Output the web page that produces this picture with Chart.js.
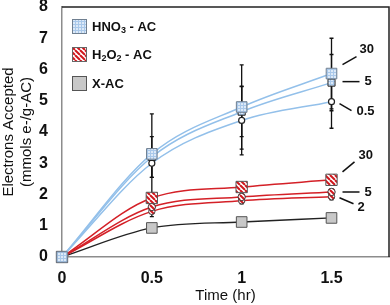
<!DOCTYPE html>
<html><head><meta charset="utf-8">
<script src="https://cdn.jsdelivr.net/npm/chart.js@4/dist/chart.umd.min.js"></script>
<style>html,body{margin:0;padding:0;background:#fff}#wrap{width:390px;height:305px;position:relative}</style>
</head><body><div id="wrap"><canvas id="c"></canvas></div>
<script>
// ---- data ----
const times = [0, 0.5, 1, 1.5];
const xTicks = [0, 0.5, 1, 1.5];
const yTicks = [0, 1, 2, 3, 4, 5, 6, 7, 8];
const hno3_30 = [0, 3.3, 4.8, 5.87];
const hno3_5 = [0, 3.2, 4.65, 5.58];
const hno3_05 = [0, 3.0, 4.37, 4.97];
const hno3_30_err = [0, 1.28, 1.35, 1.13];
const hno3_5_err = [0, 0.65, 0.8, 0.9];
const hno3_05_err = [0, 0.45, 1.1, 0.85];
const h2o2_30 = [0, 1.89, 2.24, 2.47];
const h2o2_5 = [0, 1.6, 1.92, 2.08];
const h2o2_2 = [0, 1.46, 1.8, 1.93];
const h2o2_30_err = [0, 0.08, 0.07, 0.07];
const h2o2_5_err = [0, 0.12, 0.1, 0.1];
const h2o2_2_err = [0, 0.17, 0.1, 0.1];
const xac = [0, 0.93, 1.12, 1.25];
const legendLabels = [['HNO', '3', ' - AC'], ['H', '2', 'O', '2', ' - AC'], ['X-AC']];
const hno3DoseLabels = ['30', '5', '0.5'];
const h2o2DoseLabels = ['30', '5', '2'];
const yTitle = ['Electrons Accepted', '(mmols e-/g-AC)'];
const xTitle = 'Time (hr)';

// ---- patterns ----
function makePattern(w, h, draw) {
  const c = document.createElement('canvas'); c.width = w; c.height = h;
  const g = c.getContext('2d'); draw(g);
  return g.createPattern(c, 'repeat');
}
const bluePat = makePattern(3, 3, g => {
  g.fillStyle = '#dce9f7'; g.fillRect(0, 0, 3, 3);
  g.fillStyle = '#a9c8ea'; g.fillRect(0, 0, 3, 1); g.fillRect(0, 0, 1, 3);
});
const redPat = makePattern(5, 5, g => {
  g.fillStyle = '#ffffff'; g.fillRect(0, 0, 5, 5);
  g.strokeStyle = '#d0161c'; g.lineWidth = 2;
  for (const k of [-5, 0, 5]) { g.beginPath(); g.moveTo(k, 0); g.lineTo(k + 5, 5); g.stroke(); }
});
const grayFill = '#c8c8c8';

const FONT = '"Liberation Sans", Arial, sans-serif';
const pts = arr => times.map((t, i) => ({ x: t, y: arr[i] }));

const blue = '#93c0ea', red = '#d42027', dark = '#222222';

const datasets = [
  { label: 'HNO3-30', data: pts(hno3_30), err: hno3_30_err, borderColor: blue, borderWidth: 1.5,
    pointStyle: 'rect', pointRadius: 7.5, pointBackgroundColor: bluePat, pointBorderColor: '#6f7f90', pointBorderWidth: 1 },
  { label: 'HNO3-5', data: pts(hno3_5), err: hno3_5_err, borderColor: blue, borderWidth: 1.5,
    pointStyle: 'rect', pointRadius: 5, pointBackgroundColor: bluePat, pointBorderColor: '#222', pointBorderWidth: 1 },
  { label: 'HNO3-0.5', data: pts(hno3_05), err: hno3_05_err, borderColor: blue, borderWidth: 1.5,
    pointStyle: 'circle', pointRadius: 3, pointBackgroundColor: '#ffffff', pointBorderColor: '#222', pointBorderWidth: 1.2 },
  { label: 'H2O2-30', data: pts(h2o2_30), err: h2o2_30_err, borderColor: red, borderWidth: 1.5,
    pointStyle: 'rect', pointRadius: 8, pointBackgroundColor: redPat, pointBorderColor: '#555', pointBorderWidth: 1 },
  { label: 'H2O2-5', data: pts(h2o2_5), err: h2o2_5_err, borderColor: red, borderWidth: 1.5,
    pointStyle: 'circle', pointRadius: 3.7, pointBackgroundColor: redPat, pointBorderColor: '#444', pointBorderWidth: 1 },
  { label: 'H2O2-2', data: pts(h2o2_2), err: h2o2_2_err, borderColor: red, borderWidth: 1.5,
    pointStyle: 'circle', pointRadius: 3.2, pointBackgroundColor: redPat, pointBorderColor: '#444', pointBorderWidth: 1 },
  { label: 'X-AC', data: pts(xac), borderColor: dark, borderWidth: 1.3,
    pointStyle: 'rect', pointRadius: 7.5, pointBackgroundColor: grayFill, pointBorderColor: '#555', pointBorderWidth: 1 }
].map(d => Object.assign({ cubicInterpolationMode: 'monotone', fill: false, clip: false }, d));

// error bars drawn beneath the datasets
const errorBars = {
  id: 'errorBars',
  beforeDatasetsDraw(chart) {
    const { ctx, scales: { x, y } } = chart;
    ctx.save(); ctx.strokeStyle = '#111'; ctx.lineWidth = 1.3;
    chart.data.datasets.forEach(ds => {
      if (!ds.err) return;
      ds.data.forEach((p, i) => {
        const e = ds.err[i]; if (!e) return;
        const px = x.getPixelForValue(p.x), y1 = y.getPixelForValue(p.y - e), y2 = y.getPixelForValue(p.y + e);
        ctx.beginPath(); ctx.moveTo(px, y1); ctx.lineTo(px, y2);
        ctx.moveTo(px - 2, y1); ctx.lineTo(px + 2, y1);
        ctx.moveTo(px - 2, y2); ctx.lineTo(px + 2, y2);
        ctx.stroke();
      });
    });
    ctx.restore();
  }
};

// frame, dose labels and legend
const extras = {
  id: 'extras',
  afterDraw(chart) {
    const { ctx, chartArea: a, scales: { x, y } } = chart;
    ctx.save();
    // top / right frame
    ctx.strokeStyle = '#222'; ctx.lineWidth = 1.5;
    ctx.beginPath(); ctx.moveTo(a.left, a.top); ctx.lineTo(a.right, a.top); ctx.lineTo(a.right, a.bottom); ctx.stroke();

    // dose labels with leader lines
    const last = times.length - 1;
    const px = x.getPixelForValue(times[last]);
    const spec = [
      [hno3_30[last], hno3DoseLabels[0], [11, -9, 25, -17], [28, -24]],
      [hno3_5[last], hno3DoseLabels[1], [11, -1, 28, -1], [33, -1]],
      [hno3_05[last], hno3DoseLabels[2], [8, 2, 20, 9], [25, 10]],
      [h2o2_30[last], h2o2DoseLabels[0], [11, -8, 23, -18], [27, -24]],
      [h2o2_5[last], h2o2DoseLabels[1], [11, 0, 28, 0], [33, 0]],
      [h2o2_2[last], h2o2DoseLabels[2], [8, 1, 22, 7], [26, 11]]
    ];
    ctx.strokeStyle = '#111'; ctx.lineWidth = 1.5;
    ctx.fillStyle = '#111'; ctx.font = 'bold 13px ' + FONT; ctx.textBaseline = 'middle'; ctx.textAlign = 'left';
    spec.forEach(([v, txt, l, t]) => {
      const py = y.getPixelForValue(v);
      ctx.beginPath(); ctx.moveTo(px + l[0], py + l[1]); ctx.lineTo(px + l[2], py + l[3]); ctx.stroke();
      ctx.fillText(txt, px + t[0], py + t[1]);
    });

    // legend
    const fills = [bluePat, redPat, grayFill];
    const borders = ['#6f7f90', '#666', '#555'];
    const boxX = a.left + 10, tops = [a.top + 12, a.top + 40, a.top + 69];
    legendLabels.forEach((parts, i) => {
      const by = tops[i];
      ctx.fillStyle = fills[i]; ctx.fillRect(boxX, by, 15, 15);
      ctx.strokeStyle = borders[i]; ctx.lineWidth = 1; ctx.strokeRect(boxX + 0.5, by + 0.5, 14, 14);
      let tx = boxX + 20; const ty = by + 8;
      ctx.fillStyle = '#111'; ctx.textBaseline = 'middle';
      parts.forEach(s => {
        const sub = /^\d$/.test(s);
        ctx.font = sub ? 'bold 9px ' + FONT : 'bold 13px ' + FONT;
        ctx.fillText(s, tx, sub ? ty + 4 : ty);
        tx += ctx.measureText(s).width;
      });
    });
    ctx.restore();
  }
};

new Chart(document.getElementById('c'), {
  type: 'line',
  data: { datasets },
  options: {
    responsive: true, maintainAspectRatio: false, animation: false,
    layout: { autoPadding: false, padding: { top: 7, right: 1, left: 0, bottom: 0 } },
    plugins: { legend: { display: false }, tooltip: { enabled: false } },
    elements: { line: { fill: false } },
    scales: {
      x: {
        type: 'linear', min: 0, max: 1.82,
        afterBuildTicks: s => { s.ticks = xTicks.map(v => ({ value: v })); },
        afterFit: s => { s.height = 48; s.paddingLeft = 0; s.paddingRight = 0; },
        grid: { display: false, drawTicks: false },
        border: { display: true, color: '#8c8c8c', width: 1.5 },
        ticks: { padding: 12, color: '#111', font: { family: FONT, size: 16, weight: 'bold' }, maxRotation: 0,
          callback: v => String(v) },
        title: { display: true, text: xTitle, color: '#111', font: { family: FONT, size: 15 }, padding: { top: 0, bottom: 0 } }
      },
      y: {
        type: 'linear', min: 0, max: 8,
        afterBuildTicks: s => { s.ticks = yTicks.map(v => ({ value: v })); },
        afterFit: s => { s.width = 62; s.paddingTop = 0; s.paddingBottom = 0; },
        grid: { display: false, drawTicks: false },
        border: { display: true, color: '#8c8c8c', width: 1.5 },
        ticks: { padding: 14, color: '#111', font: { family: FONT, size: 16, weight: 'bold' } },
        title: { display: true, text: yTitle, color: '#111', font: { family: FONT, size: 15, lineHeight: 1.2 }, padding: { top: 0, bottom: 0 } }
      }
    }
  },
  plugins: [errorBars, extras]
});
</script>
</body></html>
